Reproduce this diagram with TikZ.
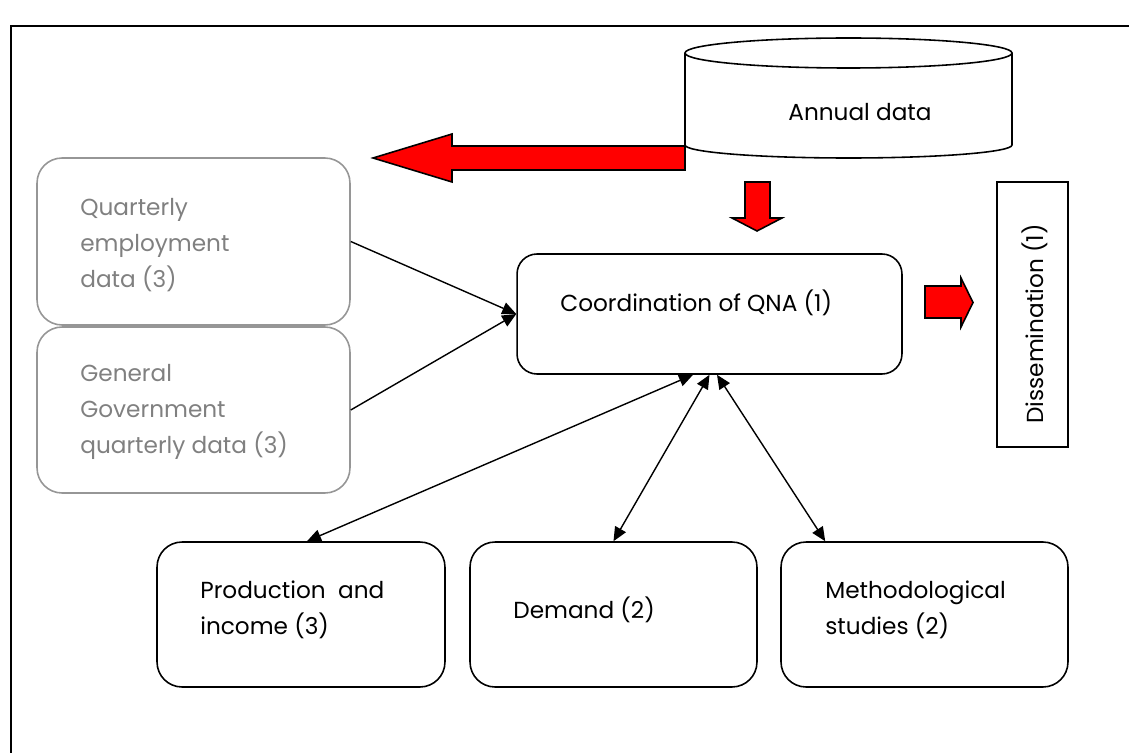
\documentclass[tikz,border=0pt]{standalone}
\usepackage{fontspec}
\setmainfont{Poppins}
\usetikzlibrary{arrows.meta}

\definecolor{boxgray}{RGB}{150,150,150}
\definecolor{txtgray}{RGB}{128,128,128}

\tikzset{
  rbox/.style={draw, rounded corners=0.5cm, line width=0.9pt, inner sep=0pt},
  gbox/.style={rbox, draw=boxgray},
  txt/.style={anchor=west, align=left, inner sep=0pt, font=\fontsize{13.2}{20.4}\selectfont},
  gtxt/.style={txt, text=txtgray},
  link/.style={line width=0.8pt, -{Triangle[length=8pt,width=7pt]}},
  dlink/.style={line width=0.8pt, {Triangle[length=8pt,width=7pt]}-{Triangle[length=8pt,width=7pt]}},
  blockarrow/.style={fill=red, draw=black, line width=0.9pt, line join=miter},
}

\begin{document}
\begin{tikzpicture}[x=0.02cm,y=-0.02cm]
\useasboundingbox (0,0) rectangle (1129,753);
% frame
\draw [line width=1.1pt] (11,753) -- (11,26) -- (1129,26);
% annual data store
\draw [line width=0.9pt] (685,53) -- (685,145) arc [start angle=180, end angle=0, x radius=163.5, y radius=13] -- (1012,53);
\draw [line width=0.9pt] (848.5,53) ellipse [x radius=163.5, y radius=15];
\node[txt, anchor=center] (annual) at (860,112) {Annual data};
% boxes
\node[gbox, minimum width=6.26cm, minimum height=3.34cm] (qemp) at (193.5,241.5) {};
\node[gbox, minimum width=6.26cm, minimum height=3.32cm] (ggov) at (193.5,410) {};
\node[rbox, rounded corners=0.4cm, minimum width=7.7cm, minimum height=2.4cm] (coord) at (709.5,314) {};
\node[draw, line width=0.9pt, rotate=90, minimum width=5.3cm, minimum height=1.42cm] (dissem) at (1032.5,314.5) {};
\node[rbox, minimum width=5.76cm, minimum height=2.9cm] (prod) at (301,614.5) {};
\node[rbox, minimum width=5.74cm, minimum height=2.9cm] (demand) at (613.5,614.5) {};
\node[rbox, minimum width=5.74cm, minimum height=2.9cm] (method) at (924.5,614.5) {};
% texts
\node[gtxt] (qemptxt) at (80,245) {Quarterly\\employment\\data (3)};
\node[gtxt] (ggovtxt) at (80,412) {General\\Government\\quarterly data (3)};
\node[txt] (coordtxt) at (560,303) {Coordination of QNA (1)};
\node[txt, anchor=center, rotate=90] (dissemtxt) at (1035,324) {Dissemination (1)};
\node[txt] (prodtxt) at (200,610) {Production\ \ and\\income (3)};
\node[txt] (demandtxt) at (513,610) {Demand (2)};
\node[txt] (methodtxt) at (825,610) {Methodological\\studies (2)};
% red block arrows
\draw[blockarrow] (685,146) -- (452,146) -- (452,134) -- (373,158) -- (452,182) -- (452,170) -- (685,170) -- cycle;
\draw[blockarrow] (745,182) -- (770,182) -- (770,218) -- (782,218) -- (757,231) -- (732,218) -- (745,218) -- cycle;
\draw[blockarrow] (925,286) -- (961,286) -- (961,278) -- (973,302.5) -- (961,327) -- (961,318) -- (925,318) -- cycle;
% links
\draw[link] (qemp.east) -- (coord.west);
\draw[link] (ggov.east) -- (coord.west);
\draw[dlink] ([xshift=0.12cm]prod.north) -- ([xshift=-0.33cm]coord.south);
\draw[dlink] (demand.north) -- (coord.south);
\draw[dlink] ([xshift=0.9cm]method.north west) -- ([xshift=0.15cm]coord.south);
\end{tikzpicture}
\end{document}
